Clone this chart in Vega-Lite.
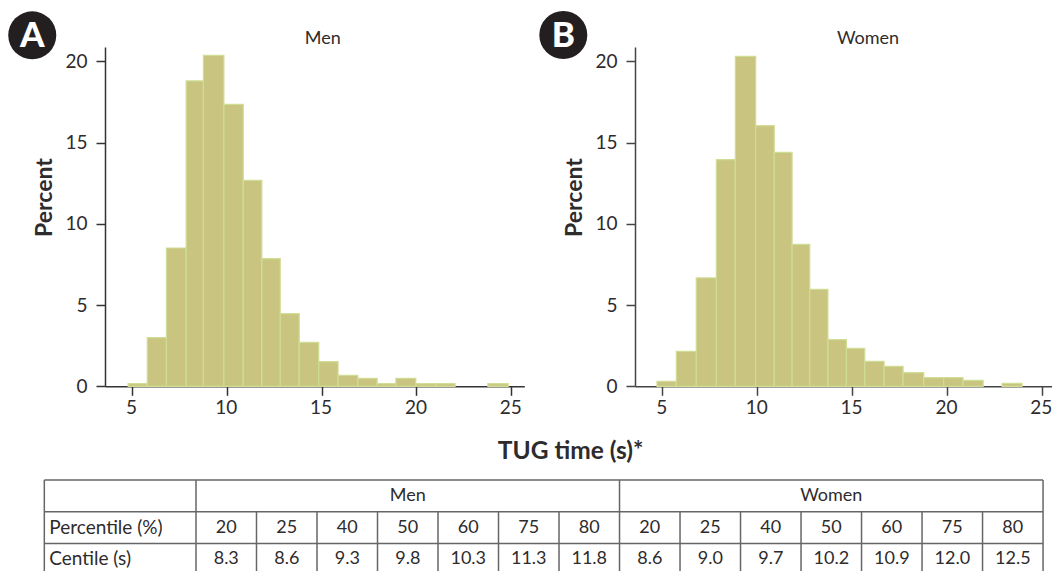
{"$schema":"https://vega.github.io/schema/vega-lite/v6.json","padding":{"left":8,"top":10,"right":0,"bottom":0},"autosize":{"type":"pad"},"background":"white","config":{"view":{"stroke":null},"font":"Lato","concat":{"spacing":0}},"spacing":20,"datasets":{"men":[{"start":4.8,"end":5.81,"percent":0.17},{"start":5.81,"end":6.82,"percent":3.0},{"start":6.82,"end":7.86,"percent":8.51},{"start":7.86,"end":8.77,"percent":18.79},{"start":8.77,"end":9.85,"percent":20.37},{"start":9.85,"end":10.87,"percent":17.35},{"start":10.87,"end":11.85,"percent":12.68},{"start":11.85,"end":12.82,"percent":7.86},{"start":12.82,"end":13.82,"percent":4.47},{"start":13.82,"end":14.85,"percent":2.7},{"start":14.85,"end":15.87,"percent":1.52},{"start":15.87,"end":16.91,"percent":0.68},{"start":16.91,"end":17.93,"percent":0.49},{"start":17.93,"end":18.92,"percent":0.17},{"start":18.92,"end":19.97,"percent":0.49},{"start":19.97,"end":21.03,"percent":0.17},{"start":21.03,"end":22.04,"percent":0.17},{"start":23.77,"end":24.84,"percent":0.17}],"women":[{"start":4.72,"end":5.74,"percent":0.31},{"start":5.74,"end":6.79,"percent":2.15},{"start":6.79,"end":7.85,"percent":6.67},{"start":7.85,"end":8.85,"percent":13.95},{"start":8.85,"end":9.92,"percent":20.3},{"start":9.92,"end":10.9,"percent":16.04},{"start":10.9,"end":11.84,"percent":14.4},{"start":11.84,"end":12.77,"percent":8.74},{"start":12.77,"end":13.73,"percent":5.97},{"start":13.73,"end":14.7,"percent":2.87},{"start":14.7,"end":15.67,"percent":2.34},{"start":15.67,"end":16.69,"percent":1.54},{"start":16.69,"end":17.69,"percent":1.23},{"start":17.69,"end":18.78,"percent":0.84},{"start":18.78,"end":19.83,"percent":0.53},{"start":19.83,"end":20.85,"percent":0.53},{"start":20.85,"end":21.91,"percent":0.37},{"start":22.91,"end":23.96,"percent":0.18}],"lines":[{"x":-2.507,"x2":14,"y":0,"y2":0},{"x":-2.507,"x2":14,"y":1,"y2":1},{"x":-2.507,"x2":14,"y":2,"y2":2},{"x":-2.507,"x2":-2.507,"y":0,"y2":2.87},{"x":0,"x2":0,"y":0,"y2":2.87},{"x":7,"x2":7,"y":0,"y2":2.87},{"x":14,"x2":14,"y":0,"y2":2.87},{"x":1,"x2":1,"y":1,"y2":2.87},{"x":2,"x2":2,"y":1,"y2":2.87},{"x":3,"x2":3,"y":1,"y2":2.87},{"x":4,"x2":4,"y":1,"y2":2.87},{"x":5,"x2":5,"y":1,"y2":2.87},{"x":6,"x2":6,"y":1,"y2":2.87},{"x":8,"x2":8,"y":1,"y2":2.87},{"x":9,"x2":9,"y":1,"y2":2.87},{"x":10,"x2":10,"y":1,"y2":2.87},{"x":11,"x2":11,"y":1,"y2":2.87},{"x":12,"x2":12,"y":1,"y2":2.87},{"x":13,"x2":13,"y":1,"y2":2.87}],"heads":[{"x":-2.425,"y":1.5,"t":"Percentile (%)"},{"x":-2.425,"y":2.5,"t":"Centile (s)"}],"cells":[{"x":3.5,"y":0.5,"t":"Men"},{"x":10.5,"y":0.5,"t":"Women"},{"x":0.5,"y":1.5,"t":"20"},{"x":1.5,"y":1.5,"t":"25"},{"x":2.5,"y":1.5,"t":"40"},{"x":3.5,"y":1.5,"t":"50"},{"x":4.5,"y":1.5,"t":"60"},{"x":5.5,"y":1.5,"t":"75"},{"x":6.5,"y":1.5,"t":"80"},{"x":7.5,"y":1.5,"t":"20"},{"x":8.5,"y":1.5,"t":"25"},{"x":9.5,"y":1.5,"t":"40"},{"x":10.5,"y":1.5,"t":"50"},{"x":11.5,"y":1.5,"t":"60"},{"x":12.5,"y":1.5,"t":"75"},{"x":13.5,"y":1.5,"t":"80"},{"x":0.5,"y":2.5,"t":"8.3"},{"x":1.5,"y":2.5,"t":"8.6"},{"x":2.5,"y":2.5,"t":"9.3"},{"x":3.5,"y":2.5,"t":"9.8"},{"x":4.5,"y":2.5,"t":"10.3"},{"x":5.5,"y":2.5,"t":"11.3"},{"x":6.5,"y":2.5,"t":"11.8"},{"x":7.5,"y":2.5,"t":"8.6"},{"x":8.5,"y":2.5,"t":"9.0"},{"x":9.5,"y":2.5,"t":"9.7"},{"x":10.5,"y":2.5,"t":"10.2"},{"x":11.5,"y":2.5,"t":"10.9"},{"x":12.5,"y":2.5,"t":"12.0"},{"x":13.5,"y":2.5,"t":"12.5"}]},"vconcat":[{"spacing":14,"hconcat":[{"width":419.3,"height":339.3,"layer":[{"data":{"name":"men"},"mark":{"type":"bar","fill":"#c9c47f","stroke":"#cfdd95","strokeWidth":1.2},"encoding":{"x":{"field":"start","type":"quantitative","scale":{"domain":[3.58,25.69],"nice":false,"zero":false},"axis":{"values":[5,10,15,20,25],"grid":false,"title":null,"tickSize":9,"tickWidth":1.5,"domainWidth":1.5,"tickColor":"#333","domainColor":"#333","labelColor":"#2e2b2c","labelFontSize":19,"labelPadding":3,"labelOffset":-1}},"x2":{"field":"end"},"y":{"field":"percent","type":"quantitative","scale":{"domain":[0,20.88],"nice":false},"axis":{"values":[0,5,10,15,20],"grid":false,"title":"Percent","titleFontSize":23,"titleFontWeight":"bold","titleColor":"#2e2b2c","titleX":-61,"titleY":150,"titleBaseline":"middle","titleAlign":"center","tickSize":9,"tickWidth":1.5,"domainWidth":1.5,"tickColor":"#333","domainColor":"#333","labelColor":"#2e2b2c","labelFontSize":19,"labelPadding":9}},"y2":{"datum":0}}},{"data":{"values":[{"x":-0.256,"y":21.6,"t":"A"}]},"mark":{"type":"point","filled":true,"size":2304,"color":"#231f20","opacity":1},"encoding":{"x":{"field":"x","type":"quantitative"},"y":{"field":"y","type":"quantitative"}}},{"data":{"values":[{"x":-0.256,"y":21.6,"t":"A"}]},"mark":{"type":"text","fontSize":35,"fontWeight":900,"color":"white","baseline":"middle","align":"center","dy":1},"encoding":{"x":{"field":"x","type":"quantitative"},"y":{"field":"y","type":"quantitative"},"text":{"field":"t"}}},{"data":{"values":[{"x":15.06,"y":21.4,"t":"Men"}]},"mark":{"type":"text","fontSize":18,"color":"#2e2b2c","baseline":"middle","align":"center"},"encoding":{"x":{"field":"x","type":"quantitative"},"y":{"field":"y","type":"quantitative"},"text":{"field":"t"}}}]},{"width":417,"height":339.3,"layer":[{"data":{"name":"women"},"mark":{"type":"bar","fill":"#c9c47f","stroke":"#cfdd95","strokeWidth":1.2},"encoding":{"x":{"field":"start","type":"quantitative","scale":{"domain":[3.56,25.54],"nice":false,"zero":false},"axis":{"values":[5,10,15,20,25],"grid":false,"title":null,"tickSize":9,"tickWidth":1.5,"domainWidth":1.5,"tickColor":"#444","domainColor":"#444","labelColor":"#2e2b2c","labelFontSize":19,"labelPadding":3,"labelOffset":-1}},"x2":{"field":"end"},"y":{"field":"percent","type":"quantitative","scale":{"domain":[0,20.88],"nice":false},"axis":{"values":[0,5,10,15,20],"grid":false,"title":"Percent","titleFontSize":23,"titleFontWeight":"bold","titleColor":"#2e2b2c","titleX":-61,"titleY":150,"titleBaseline":"middle","titleAlign":"center","tickSize":9,"tickWidth":1.5,"domainWidth":1.5,"tickColor":"#444","domainColor":"#444","labelColor":"#2e2b2c","labelFontSize":19,"labelPadding":9}},"y2":{"datum":0}}},{"data":{"values":[{"x":-0.219,"y":21.62,"t":"B"}]},"mark":{"type":"point","filled":true,"size":2304,"color":"#231f20","opacity":1},"encoding":{"x":{"field":"x","type":"quantitative"},"y":{"field":"y","type":"quantitative"}}},{"data":{"values":[{"x":-0.219,"y":21.62,"t":"B"}]},"mark":{"type":"text","fontSize":35,"fontWeight":900,"color":"white","baseline":"middle","align":"center","dy":1},"encoding":{"x":{"field":"x","type":"quantitative"},"y":{"field":"y","type":"quantitative"},"text":{"field":"t"}}},{"data":{"values":[{"x":15.84,"y":21.4,"t":"Women"}]},"mark":{"type":"text","fontSize":18,"color":"#2e2b2c","baseline":"middle","align":"center"},"encoding":{"x":{"field":"x","type":"quantitative"},"y":{"field":"y","type":"quantitative"},"text":{"field":"t"}}}]}]},{"width":947.3,"height":91,"title":{"text":"TUG time (s)*","dx":-8,"offset":15,"fontSize":24.5,"fontWeight":"bold","color":"#2e2b2c","anchor":"middle"},"encoding":{"x":{"field":"x","type":"quantitative","scale":{"domain":[-1.504,14.153],"nice":false,"zero":false},"axis":null},"y":{"field":"y","type":"quantitative","scale":{"domain":[0,2.87],"nice":false,"reverse":true},"axis":null}},"layer":[{"data":{"name":"lines"},"mark":{"type":"rule","color":"#666","strokeWidth":1.5},"encoding":{"x2":{"field":"x2"},"y2":{"field":"y2"}}},{"data":{"name":"heads"},"mark":{"type":"text","align":"left","baseline":"middle","fontSize":19,"color":"#2e2b2c"},"encoding":{"text":{"field":"t"}}},{"data":{"name":"cells"},"mark":{"type":"text","align":"center","baseline":"middle","fontSize":18,"color":"#2e2b2c"},"encoding":{"text":{"field":"t"}}}]}]}
